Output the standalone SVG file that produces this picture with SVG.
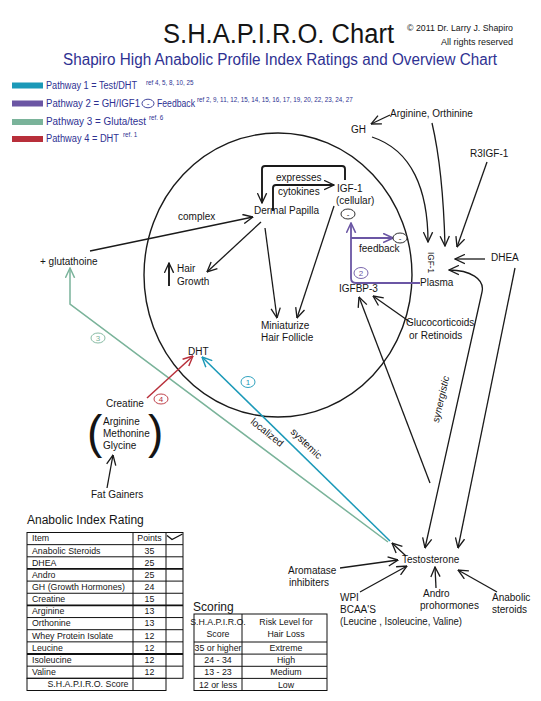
<svg xmlns="http://www.w3.org/2000/svg" width="541" height="701" viewBox="0 0 541 701">
<defs>
<style>
text{font-family:"Liberation Sans",Arial,sans-serif;fill:#151515}
.l{font-size:10px}
.t{font-size:8.8px}
.r{font-size:6.3px}
.nv{fill:#2e3192}
.m{text-anchor:middle}
.ln{fill:none;stroke:#1a1a1a;stroke-width:1.3}
.th{stroke-width:1.9}
.a{marker-end:url(#ak)}
.tl{fill:none;stroke:#1b99b8;stroke-width:1.5;marker-end:url(#at)}
.pu{fill:none;stroke:#6b56a4;stroke-width:1.8}
.gr{fill:none;stroke:#7ab39a;stroke-width:1.5;marker-end:url(#ag)}
.rd{fill:none;stroke:#b82f3a;stroke-width:1.5;marker-end:url(#ar)}
.ov{fill:#fff;stroke:#1a1a1a;stroke-width:0.9}
.tb{fill:none;stroke:#111;stroke-width:1}
.tk{stroke:#111;stroke-width:1.8}
</style>
<marker id="ak" viewBox="0 0 10 10" refX="9.5" refY="5" markerWidth="11" markerHeight="11" markerUnits="userSpaceOnUse" orient="auto-start-reverse"><path d="M0.5,0.8 L9.5,5 L0.5,9.2" fill="none" stroke="#1a1a1a" stroke-width="1.2"/></marker>
<marker id="at" viewBox="0 0 10 10" refX="9.5" refY="5" markerWidth="11" markerHeight="11" markerUnits="userSpaceOnUse" orient="auto"><path d="M0.5,0.8 L9.5,5 L0.5,9.2" fill="none" stroke="#1b99b8" stroke-width="1.3"/></marker>
<marker id="ap" viewBox="0 0 10 10" refX="9.5" refY="5" markerWidth="11" markerHeight="11" markerUnits="userSpaceOnUse" orient="auto"><path d="M0.5,0.8 L9.5,5 L0.5,9.2" fill="none" stroke="#6b56a4" stroke-width="1.4"/></marker>
<marker id="ag" viewBox="0 0 10 10" refX="9.5" refY="5" markerWidth="11" markerHeight="11" markerUnits="userSpaceOnUse" orient="auto"><path d="M0.5,0.8 L9.5,5 L0.5,9.2" fill="none" stroke="#7ab39a" stroke-width="1.3"/></marker>
<marker id="ar" viewBox="0 0 10 10" refX="9.5" refY="5" markerWidth="11" markerHeight="11" markerUnits="userSpaceOnUse" orient="auto"><path d="M0.5,0.8 L9.5,5 L0.5,9.2" fill="none" stroke="#b82f3a" stroke-width="1.3"/></marker>
</defs>
<rect width="541" height="701" fill="#fff"/>

<g id="header">
<text x="163" y="43" font-size="27" textLength="231" lengthAdjust="spacingAndGlyphs">S.H.A.P.I.R.O. Chart</text>
<text x="407" y="31" font-size="9" textLength="106" lengthAdjust="spacingAndGlyphs">© 2011 Dr. Larry J. Shapiro</text>
<text x="513" y="45" font-size="9" text-anchor="end">All rights reserved</text>
<text x="63" y="65" font-size="16" class="nv" textLength="434" lengthAdjust="spacingAndGlyphs">Shapiro High Anabolic Profile Index Ratings and Overview Chart</text>
</g>

<g id="legend">
<rect x="12" y="82.5" width="31" height="6" fill="#1b99b8"/>
<text x="46" y="89" font-size="10" class="nv" textLength="91" lengthAdjust="spacingAndGlyphs">Pathway 1 = Test/DHT</text>
<text x="146" y="85" class="r nv">ref 4, 5, 8, 10, 25</text>
<rect x="12" y="100.5" width="31" height="6" fill="#6b56a4"/>
<text x="46" y="107" font-size="10" class="nv" textLength="94" lengthAdjust="spacingAndGlyphs">Pathway 2 = GH/IGF1</text>
<ellipse cx="148" cy="103.5" rx="6" ry="4.3" fill="none" stroke="#2e3192" stroke-width="0.9"/>
<text x="148" y="106" font-size="8" class="nv m">-</text>
<text x="157" y="107" font-size="10" class="nv" textLength="38" lengthAdjust="spacingAndGlyphs">Feedback</text>
<text x="197" y="102" class="r nv">ref 2, 9, 11, 12, 15, 14, 15, 16, 17, 19, 20, 22, 23, 24, 27</text>
<rect x="12" y="119" width="31" height="6" fill="#7ab39a"/>
<text x="46" y="125" font-size="10" class="nv" textLength="100" lengthAdjust="spacingAndGlyphs">Pathway 3 = Gluta/test</text>
<text x="149" y="120" class="r nv">ref. 6</text>
<rect x="12" y="136" width="31" height="6" fill="#b82f3a"/>
<text x="46" y="142" font-size="10" class="nv" textLength="73" lengthAdjust="spacingAndGlyphs">Pathway 4 = DHT</text>
<text x="123" y="137" class="r nv">ref. 1</text>
</g>

<g id="scalp-circle"><ellipse cx="278" cy="275" rx="134" ry="142" fill="none" stroke="#1a1a1a" stroke-width="1.4"/></g>

<g id="connectors">
<path class="ln a" d="M390,115 L371,124"/>
<path class="ln a" d="M372,137 C412,150 428,190 428,242"/>
<path class="ln a" d="M432,123 Q443,170 445,246"/>
<path class="ln a" d="M487,162 L457,247"/>
<path class="ln a" d="M485,259 L455,259"/>
<path class="ln" marker-start="url(#ak)" marker-end="url(#ak)" d="M425,548 L482,292 C485,279 470,270 449,270"/>
<path class="ln a" d="M515,268 L458,548"/>
<path class="ln a" d="M430,483 L359,297"/>
<path class="ln a" d="M410,322 L373,296"/>
<path class="pu" d="M420,283 H356 Q351,283 351,278 V223" marker-end="url(#ap)"/>
<path class="pu" d="M351,238 H393" marker-end="url(#ap)"/>
<path class="ln th a" d="M345,180 V169 Q345,166 342,166 H265 Q262,166 262,169 V203"/>
<path class="ln th a" d="M273,211 V188 Q273,185 276,185 H334"/>
<path class="ln a" d="M261,222 L207,272"/>
<path class="ln a" d="M265,228 L277,318"/>
<path class="ln a" d="M334,206 L297,318"/>
<path class="ln a" d="M90,251 L253,217"/>
<path class="ln th a" d="M169,286 V263"/>
<path class="gr" d="M388,542 L70,304 V268"/>
<path class="tl" d="M390,541 L202,357"/>
<path class="rd" d="M147,398 L193,356"/>
<path class="ln a" d="M107,488 L113,455"/>
<path class="ln a" d="M406,556 L392,543"/>
<path class="ln a" d="M340,568 L398,560"/>
<path class="ln a" d="M360,592 L407,566"/>
<path class="ln a" d="M436,588 L435,567"/>
<path class="ln a" d="M497,592 L458,570"/>
</g>

<g id="pathway-badges">
<ellipse cx="248" cy="382" rx="7" ry="5.5" fill="#fff" stroke="#1b99b8" stroke-width="0.9"/>
<text x="248" y="385" font-size="8" class="m" style="fill:#1b99b8">1</text>
<ellipse cx="361" cy="273" rx="7" ry="5.5" fill="#fff" stroke="#6b56a4" stroke-width="0.9"/>
<text x="361" y="276" font-size="8" class="m" style="fill:#6b56a4">2</text>
<ellipse cx="98" cy="338" rx="7" ry="5" fill="#fff" stroke="#7ab39a" stroke-width="0.9"/>
<text x="98" y="341" font-size="8" class="m" style="fill:#7ab39a">3</text>
<ellipse cx="161" cy="399" rx="7" ry="5" fill="#fff" stroke="#b82f3a" stroke-width="0.9"/>
<text x="161" y="402" font-size="8" class="m" style="fill:#b82f3a">4</text>
</g>

<g id="n-gh"><text x="351" y="133" class="l">GH</text></g>
<g id="n-arginine-orthinine"><text x="390" y="117" class="l">Arginine, Orthinine</text></g>
<g id="n-r3igf1"><text x="470" y="157" class="l">R3IGF-1</text></g>
<g id="n-igf1-plasma">
<text font-size="9.5" textLength="21" lengthAdjust="spacingAndGlyphs" transform="translate(428,252) rotate(90)">IGF-1</text>
<text x="420" y="286" class="l">Plasma</text>
</g>
<g id="n-dhea"><text x="491" y="261" class="l">DHEA</text></g>
<g id="n-igf1-cellular">
<text x="337" y="192" class="l">IGF-1</text>
<text x="336" y="204" class="l">(cellular)</text>
<ellipse cx="348" cy="214" rx="7" ry="5" class="ov"/>
<text x="348" y="217" font-size="8" class="m">-</text>
</g>
<g id="n-feedback">
<ellipse cx="400" cy="238" rx="7" ry="5" class="ov"/>
<text x="400" y="241" font-size="8" class="m">-</text>
<text x="359" y="252" class="l">feedback</text>
</g>
<g id="n-dermal-papilla"><text x="254" y="214" class="l">Dermal Papilla</text></g>
<g id="n-expresses">
<text x="276" y="181" class="l">expresses</text>
<text x="278" y="195" class="l">cytokines</text>
</g>
<g id="n-complex"><text x="178" y="220" class="l">complex</text></g>
<g id="n-igfbp3"><text x="339" y="292" class="l">IGFBP-3</text></g>
<g id="n-glucocorticoids">
<text x="406" y="326" class="l">Glucocorticoids</text>
<text x="409" y="339" class="l">or Retinoids</text>
</g>
<g id="n-hair-growth">
<text x="177" y="272" class="l">Hair</text>
<text x="177" y="285" class="l">Growth</text>
</g>
<g id="n-miniaturize">
<text x="261" y="329" class="l">Miniaturize</text>
<text x="261" y="341" class="l">Hair Follicle</text>
</g>
<g id="n-glutathoine"><text x="40" y="265" class="l">+ glutathoine</text></g>
<g id="n-dht"><text x="188" y="355" class="l">DHT</text></g>
<g id="n-creatine">
<text x="106" y="407" class="l">Creatine</text>
<text x="87" y="448" font-size="46">(</text>
<text x="148" y="448" font-size="46">)</text>
<text x="103" y="425" class="l">Arginine</text>
<text x="103" y="437" class="l">Methonine</text>
<text x="103" y="449" class="l">Glycine</text>
</g>
<g id="n-fat-gainers"><text x="91" y="498" class="l">Fat Gainers</text></g>
<g id="edge-labels">
<text class="l m" font-style="italic" transform="translate(444,400) rotate(-77)">synergistic</text>
<text class="l m" transform="translate(304,446) rotate(44)">systemic</text>
<text class="l m" transform="translate(265,435) rotate(39)">localized</text>
</g>
<g id="n-testosterone"><text x="402" y="563" class="l">Testosterone</text></g>
<g id="n-aromatase">
<text x="288" y="574" class="l">Aromatase</text>
<text x="289" y="586" class="l">inhibiters</text>
</g>
<g id="n-wpi">
<text x="340" y="601" class="l">WPI</text>
<text x="340" y="613" class="l">BCAA'S</text>
<text x="340" y="625" class="l" textLength="122" lengthAdjust="spacingAndGlyphs">(Leucine , Isoleucine, Valine)</text>
</g>
<g id="n-andro">
<text x="423" y="597" class="l">Andro</text>
<text x="420" y="609" class="l">prohormones</text>
</g>
<g id="n-anabolic-steroids">
<text x="492" y="601" class="l">Anabolic</text>
<text x="492" y="613" class="l">steroids</text>
</g>

<g id="anabolic-table">
<text x="27" y="524" font-size="12">Anabolic Index Rating</text>
<rect x="27" y="532.5" width="156" height="145.8" class="tb"/>
<rect x="27" y="678.3" width="139" height="12.2" class="tb"/>
<path class="tb" d="M133,532.5 V690.5 M166,532.5 V678.3"/>
<path class="tb" d="M27,544.65 H183 M27,556.8 H183 M27,581.1 H183 M27,593.25 H183 M27,617.55 H183 M27,629.7 H183 M27,641.85 H183 M27,666.15 H183"/>
<path class="tk" d="M27,568.95 H183 M27,605.4 H183 M27,654 H183"/>
<polyline points="167,535.5 172,539.5 182.5,534" fill="none" stroke="#111" stroke-width="1.3"/>
<g class="t">
<text x="32" y="541.3">Item</text><text x="149.5" y="541.3" class="m">Points</text>
<text x="32" y="553.5">Anabolic  Steroids</text><text x="149.5" y="553.5" class="m">35</text>
<text x="32" y="565.6">DHEA</text><text x="149.5" y="565.6" class="m">25</text>
<text x="32" y="577.8">Andro</text><text x="149.5" y="577.8" class="m">25</text>
<text x="32" y="589.9">GH (Growth Hormones)</text><text x="149.5" y="589.9" class="m">24</text>
<text x="32" y="602.1">Creatine</text><text x="149.5" y="602.1" class="m">15</text>
<text x="32" y="614.2">Arginine</text><text x="149.5" y="614.2" class="m">13</text>
<text x="32" y="626.4">Orthonine</text><text x="149.5" y="626.4" class="m">13</text>
<text x="32" y="638.5">Whey Protein Isolate</text><text x="149.5" y="638.5" class="m">12</text>
<text x="32" y="650.7">Leucine</text><text x="149.5" y="650.7" class="m">12</text>
<text x="32" y="662.8">Isoleucine</text><text x="149.5" y="662.8" class="m">12</text>
<text x="32" y="675">Valine</text><text x="149.5" y="675" class="m">12</text>
<text x="88" y="687.2" class="m">S.H.A.P.I.R.O. Score</text>
</g>
</g>

<g id="scoring-table">
<text x="193" y="611" font-size="12">Scoring</text>
<rect x="194" y="614" width="133" height="76.5" class="tb"/>
<path class="tb" d="M242,614 V690.5 M194,642 H327 M194,654.1 H327 M194,666.3 H327 M194,678.4 H327"/>
<g class="t">
<text x="218" y="625" class="m">S.H.A.P.I.R.O.</text><text x="286" y="625" class="m">Risk Level for</text>
<text x="218" y="637" class="m">Score</text><text x="286" y="637" class="m">Hair Loss</text>
<text x="218" y="651" class="m">35 or higher</text><text x="286" y="651" class="m">Extreme</text>
<text x="218" y="663.2" class="m">24 - 34</text><text x="286" y="663.2" class="m">High</text>
<text x="218" y="675.3" class="m">13 - 23</text><text x="286" y="675.3" class="m">Medium</text>
<text x="218" y="687.5" class="m">12 or less</text><text x="286" y="687.5" class="m">Low</text>
</g>
</g>
</svg>
